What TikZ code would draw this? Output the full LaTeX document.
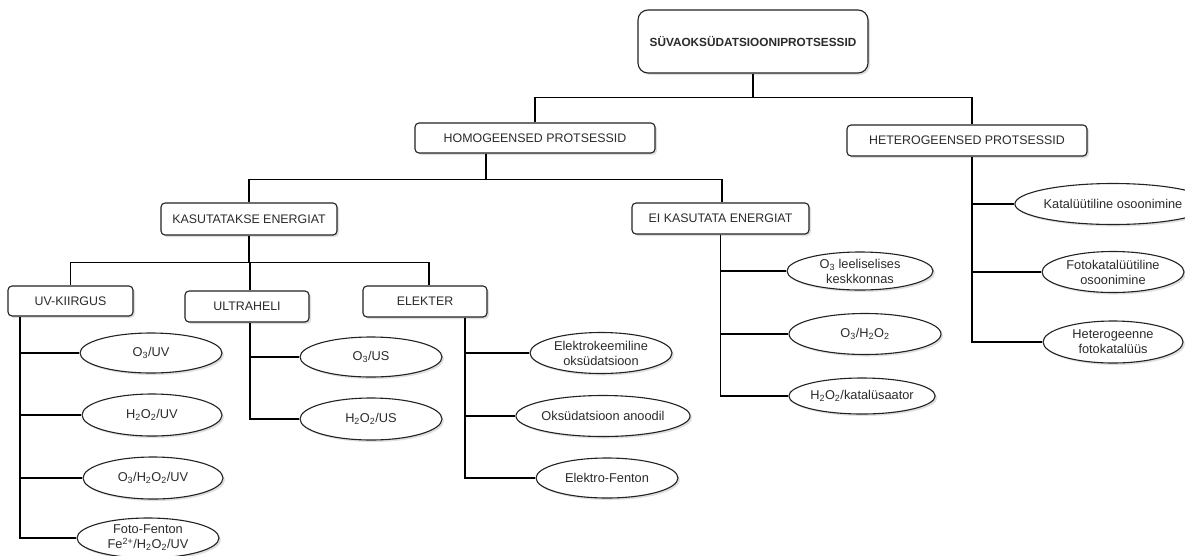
\documentclass[tikz,border=0pt]{standalone}
\usepackage{fontspec}
\setmainfont{Liberation Sans}
\usetikzlibrary{shapes.geometric,shadows}
\definecolor{txt}{HTML}{2B2B2B}
\definecolor{edge}{HTML}{222222}
\tikzset{
  box/.style={draw=edge, line width=1.1pt, rounded corners=4pt, fill=white,
    drop shadow={shadow xshift=2pt, shadow yshift=-2pt, opacity=0.25, fill=gray},
    text=txt, font=\fontsize{12.4}{14}\selectfont, inner sep=0pt, anchor=center},
  oval/.style={ellipse, draw=edge, line width=1.1pt, fill=white,
    drop shadow={shadow xshift=2pt, shadow yshift=-2pt, opacity=0.25, fill=gray},
    text=txt, font=\fontsize{12.8}{15}\selectfont, inner sep=0pt, align=center},
  conn/.style={draw=black, line width=1.8pt}
}
\begin{document}
\begin{tikzpicture}[x=1pt,y=-1pt]
\useasboundingbox (0,0) rectangle (1185,555);
% boxes
\node[box, rounded corners=10pt, minimum width=230pt, minimum height=63pt,
  font=\fontsize{11.8}{14}\selectfont\bfseries] (root) at (753,41.5) {SÜVAOKSÜDATSIOONIPROTSESSID};
\node[box, minimum width=240pt, minimum height=30pt] (homo) at (535,138) {HOMOGEENSED PROTSESSID};
\node[box, minimum width=240pt, minimum height=31pt] (hetero) at (967,140.5) {HETEROGEENSED PROTSESSID};
\node[box, minimum width=176pt, minimum height=32pt] (kas) at (249,219) {KASUTATAKSE ENERGIAT};
\node[box, minimum width=177pt, minimum height=31pt] (ei) at (720.5,218.5) {EI KASUTATA ENERGIAT};
\node[box, minimum width=125pt, minimum height=30pt] (uv) at (70.5,301) {UV-KIIRGUS};
\node[box, minimum width=124pt, minimum height=31pt] (ultra) at (247,306.5) {ULTRAHELI};
\node[box, minimum width=124pt, minimum height=31pt] (elek) at (425,301.5) {ELEKTER};
% ellipses
\node[oval, minimum width=142pt, minimum height=40pt] (o3uv) at (151,353) {O\textsubscript{3}/UV};
\node[oval, minimum width=140pt, minimum height=42pt] (h2uv) at (152,415) {H\textsubscript{2}O\textsubscript{2}/UV};
\node[oval, minimum width=140pt, minimum height=42pt] (o3h2uv) at (153,478) {O\textsubscript{3}/H\textsubscript{2}O\textsubscript{2}/UV};
\node[oval, minimum width=142pt, minimum height=40pt] (foto) at (148,538) {Foto-Fenton\\Fe\textsuperscript{2+}/H\textsubscript{2}O\textsubscript{2}/UV};
\node[oval, minimum width=142pt, minimum height=40pt] (o3us) at (371,357) {O\textsubscript{3}/US};
\node[oval, minimum width=142pt, minimum height=42pt] (h2us) at (371,419) {H\textsubscript{2}O\textsubscript{2}/US};
\node[oval, minimum width=142pt, minimum height=41pt] (ekeem) at (601,353) {Elektrokeemiline\\oksüdatsioon};
\node[oval, minimum width=140pt, minimum height=41pt] (anood) at (603,416) {Oksüdatsioon anoodil};
\node[oval, minimum width=142pt, minimum height=40pt] (efent) at (607,478) {Elektro-Fenton};
\node[oval, minimum width=146pt, minimum height=38pt] (leel) at (860,271) {O\textsubscript{3} leeliselises\\keskkonnas};
\node[oval, minimum width=152pt, minimum height=41pt] (o3h2) at (865,334) {O\textsubscript{3}/H\textsubscript{2}O\textsubscript{2}};
\node[oval, minimum width=142pt, minimum height=36pt] (kataly) at (862,396) {H\textsubscript{2}O\textsubscript{2}/katalüsaator};
\node[oval, minimum width=146pt, minimum height=41pt] (katoso) at (1113,204) {Katalüütiline osoonimine};
\node[oval, minimum width=142pt, minimum height=41pt] (fotoso) at (1113,272) {Fotokatalüütiline\\osoonimine};
\node[oval, minimum width=140pt, minimum height=42pt] (hetfot) at (1113,342) {Heterogeenne\\fotokatalüüs};
% connectors
\draw[conn] (root.south) -- ++(0,24) -| (homo.north);
\draw[conn] (root.south) -- ++(0,24) -| ([xshift=5pt]hetero.north);
\draw[conn] ([xshift=-49pt]homo.south) -- ++(0,26) -| (kas.north);
\draw[conn] ([xshift=-49pt]homo.south) -- ++(0,26) -| ([xshift=1.5pt]ei.north);
\draw[conn] (kas.south) -- ++(0,27) -| (uv.north);
\draw[conn] (kas.south) -- ++(0,27) -| ([xshift=3pt]ultra.north);
\draw[conn] (kas.south) -- ++(0,27) -| ([xshift=4pt]elek.north);
\draw[conn] ([xshift=-50.5pt]uv.south) |- (o3uv.west);
\draw[conn] ([xshift=-50.5pt]uv.south) |- (h2uv.west);
\draw[conn] ([xshift=-50.5pt]uv.south) |- (o3h2uv.west);
\draw[conn] ([xshift=-50.5pt]uv.south) |- (foto.west);
\draw[conn] ([xshift=3pt]ultra.south) |- (o3us.west);
\draw[conn] ([xshift=3pt]ultra.south) |- (h2us.west);
\draw[conn] ([xshift=40pt]elek.south) |- (ekeem.west);
\draw[conn] ([xshift=40pt]elek.south) |- (anood.west);
\draw[conn] ([xshift=40pt]elek.south) |- (efent.west);
\draw[conn] (ei.south) |- (leel.west);
\draw[conn] (ei.south) |- (o3h2.west);
\draw[conn] (ei.south) |- (kataly.west);
\draw[conn] ([xshift=5pt]hetero.south) |- (katoso.west);
\draw[conn] ([xshift=5pt]hetero.south) |- (fotoso.west);
\draw[conn] ([xshift=5pt]hetero.south) |- (hetfot.west);
\end{tikzpicture}
\end{document}
